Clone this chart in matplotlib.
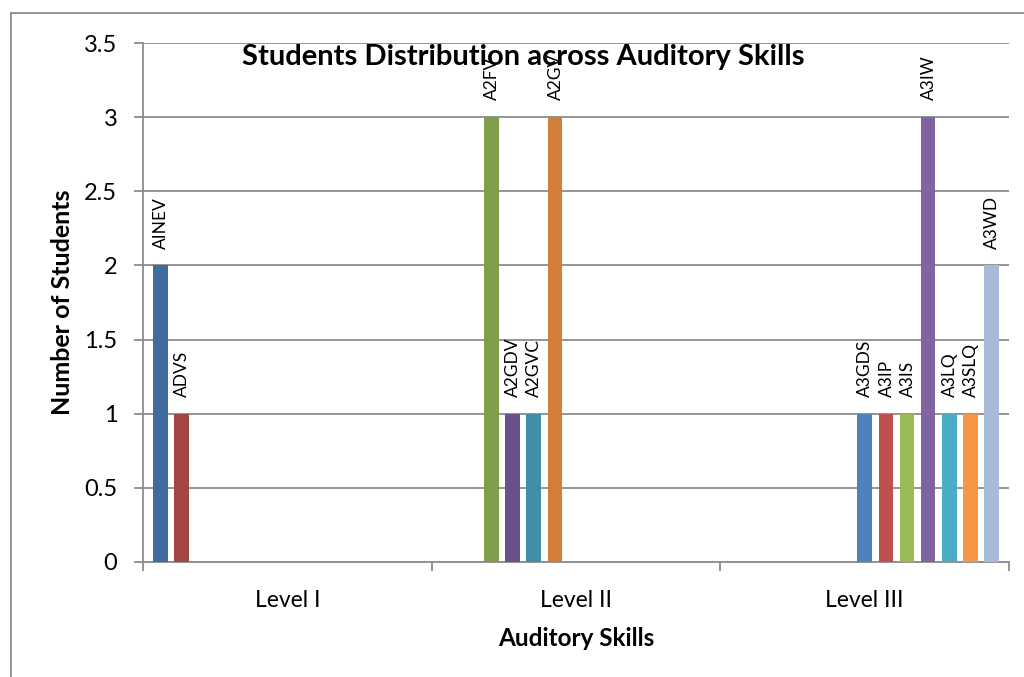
import matplotlib
matplotlib.use("Agg")
import matplotlib.pyplot as plt
from matplotlib.lines import Line2D

plt.rcParams['font.family'] = ['Lato', 'DejaVu Sans']

categories = ["Level I", "Level II", "Level III"]
series_names = ["AINEV", "ADVS", "A2FV", "A2GDV", "A2GVC", "A2GV",
                "A3GDS", "A3IP", "A3IS", "A3IW", "A3LQ", "A3SLQ", "A3WD"]
# value of each series per category (Level I, Level II, Level III)
series_values = [
    [2, 0, 0],
    [1, 0, 0],
    [0, 3, 0],
    [0, 1, 0],
    [0, 1, 0],
    [0, 3, 0],
    [0, 0, 1],
    [0, 0, 1],
    [0, 0, 1],
    [0, 0, 3],
    [0, 0, 1],
    [0, 0, 1],
    [0, 0, 2],
]
colors = ["#416B9C", "#A34644", "#809D4B", "#6B518C", "#3E8FA7", "#D07E3A",
          "#4F81BD", "#C0504D", "#9BBB59", "#8064A2", "#4BACC6", "#F79646", "#A8BADA"]
y_ticks = [0, 0.5, 1, 1.5, 2, 2.5, 3, 3.5]
y_tick_labels = ["0", "0.5", "1", "1.5", "2", "2.5", "3", "3.5"]

W, H = 1024, 677
fig = plt.figure(figsize=(W / 100, H / 100), dpi=100)
ax = fig.add_axes([143 / W, 1 - 562 / H, (1009 - 143) / W, (562 - 43) / H])

grid_color = "#8C8C8C"
pitch = 0.0733
width = 0.050
n = len(series_names)
for i, (name, vals, col) in enumerate(zip(series_names, series_values, colors)):
    xs = [c + (i - (n - 1) / 2) * pitch for c in range(len(categories))]
    ax.bar(xs, vals, width=width, color=col, zorder=3)
    for x, v in zip(xs, vals):
        if v > 0:
            ax.annotate(name, (x, v), xytext=(0.5, 12), textcoords="offset points",
                        rotation=90, ha="center", va="bottom", fontsize=12.5,
                        color="black", zorder=4)

ax.set_xlim(-0.5, 2.5)
ax.set_ylim(0, 3.5)
ax.set_yticks(y_ticks)
ax.set_yticklabels(y_tick_labels, fontsize=17)
ax.yaxis.grid(True, color=grid_color, linewidth=1.3, zorder=0)
ax.set_axisbelow(True)

ax.set_xticks(range(len(categories)))
ax.set_xticklabels(categories, fontsize=16.5)
ax.set_xticks([-0.5, 0.5, 1.5, 2.5], minor=True)
ax.tick_params(axis="x", which="major", length=0, pad=20)
ax.tick_params(axis="x", which="minor", length=6.5, width=1.3, color=grid_color)
ax.tick_params(axis="y", length=6.5, width=1.3, color=grid_color, pad=12)

for s in ["top", "right"]:
    ax.spines[s].set_visible(False)
for s in ["left", "bottom"]:
    ax.spines[s].set_color(grid_color)
    ax.spines[s].set_linewidth(1.3)

fig.text(523 / W, 1 - 57 / H, "Students Distribution across Auditory Skills",
         ha="center", va="center", fontsize=21, fontweight="bold")
fig.text(62 / W, 1 - 302 / H, "Number of Students", rotation=90,
         ha="center", va="center", fontsize=18, fontweight="bold")
fig.text(576 / W, 1 - 638 / H, "Auditory Skills",
         ha="center", va="center", fontsize=17.5, fontweight="bold")

# chart area border
fig.add_artist(Line2D([10.5 / W, 10.5 / W], [0, 1 - 13 / H], color="#8C8C8C", lw=1.3,
                      transform=fig.transFigure))
fig.add_artist(Line2D([10.5 / W, 1.0], [1 - 13 / H, 1 - 13 / H], color="#8C8C8C", lw=1.3,
                      transform=fig.transFigure))

fig.savefig("out.png", dpi=100)
